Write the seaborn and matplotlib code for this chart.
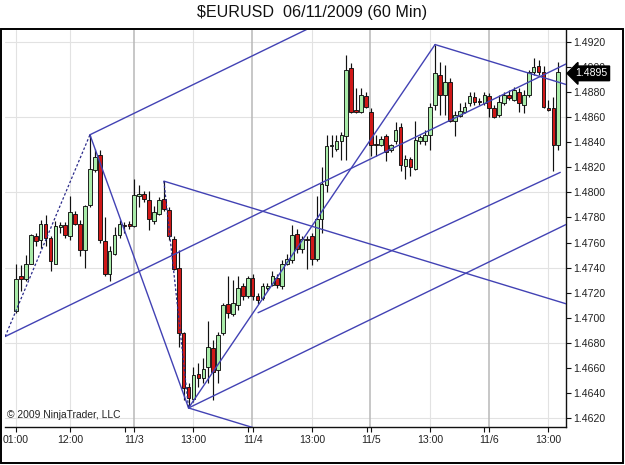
import numpy as np
import pandas as pd
import matplotlib
matplotlib.use("Agg")
import matplotlib.pyplot as plt
import matplotlib.transforms as mtransforms
from matplotlib.patches import Rectangle
import seaborn as sns

# ---------------- data (hourly EURUSD bars, 11/2 01:00 .. 11/6 15:00) ----------------
opens = [1.4705, 1.4733, 1.4731, 1.4743, 1.4765, 1.4762, 1.4775, 1.4764, 1.4743, 1.4772,
         1.4774, 1.4765, 1.4783, 1.4775, 1.4754, 1.4790, 1.4818, 1.4830, 1.4761, 1.4735,
         1.4751, 1.4766, 1.4774, 1.4775, 1.4773, 1.4797, 1.4799, 1.4794, 1.4777, 1.4783,
         1.4795, 1.4786, 1.4763, 1.4740, 1.4688, 1.4645, 1.4635, 1.4655, 1.4652, 1.4661,
         1.4676, 1.4658, 1.4688, 1.4711, 1.4703, 1.4710, 1.4725, 1.4717, 1.4732, 1.4717,
         1.4716, 1.4724, 1.4726, 1.4732, 1.4725, 1.4743, 1.4746, 1.4767, 1.4755, 1.4763,
         1.4765, 1.4747, 1.4779, 1.4806, 1.4837, 1.4835, 1.4841, 1.4845, 1.4899, 1.4866,
         1.4864, 1.4877, 1.4864, 1.4839, 1.4838, 1.4845, 1.4834, 1.4841, 1.4852, 1.4821,
         1.4827, 1.4819, 1.4841, 1.4841, 1.4846, 1.4870, 1.4894, 1.4878, 1.4888, 1.4857,
         1.4861, 1.4864, 1.4871, 1.4876, 1.4873, 1.4871, 1.4877, 1.4867, 1.4862, 1.4871,
         1.4878, 1.4874, 1.4880, 1.4870, 1.4878, 1.4896, 1.4901, 1.4896, 1.4867, 1.4867,
         1.4838]
highs = [1.4743, 1.4742, 1.4750, 1.4767, 1.4768, 1.4778, 1.4782, 1.4765, 1.4777, 1.4776,
         1.4776, 1.4797, 1.4785, 1.4778, 1.4790, 1.4846, 1.4835, 1.4834, 1.4780, 1.4757,
         1.4772, 1.4778, 1.4776, 1.4777, 1.4811, 1.4806, 1.4801, 1.4801, 1.4789, 1.4796,
         1.4809, 1.4788, 1.4765, 1.4754, 1.4689, 1.4648, 1.4661, 1.4664, 1.4668, 1.4697,
         1.4682, 1.4689, 1.4712, 1.4733, 1.4730, 1.4733, 1.4728, 1.4733, 1.4735, 1.4720,
         1.4728, 1.4728, 1.4737, 1.4735, 1.4746, 1.4751, 1.4774, 1.4771, 1.4765, 1.4765,
         1.4768, 1.4797, 1.4820, 1.4846, 1.4846, 1.4846, 1.4848, 1.4910, 1.4903, 1.4883,
         1.4883, 1.4880, 1.4867, 1.4846, 1.4845, 1.4847, 1.4839, 1.4856, 1.4855, 1.4830,
         1.4828, 1.4857, 1.4846, 1.4850, 1.4871, 1.4918, 1.4904, 1.4902, 1.4891, 1.4865,
         1.4871, 1.4872, 1.4880, 1.4880, 1.4875, 1.4880, 1.4879, 1.4870, 1.4878, 1.4880,
         1.4882, 1.4884, 1.4883, 1.4882, 1.4898, 1.4907, 1.4906, 1.4901, 1.4874, 1.4876,
         1.4904]
lows = [1.4704, 1.4721, 1.4729, 1.4743, 1.4757, 1.4756, 1.4757, 1.4737, 1.4743, 1.4768,
        1.4764, 1.4762, 1.4774, 1.4749, 1.4740, 1.4788, 1.4816, 1.4760, 1.4733, 1.4729,
        1.4750, 1.4764, 1.4768, 1.4771, 1.4772, 1.4788, 1.4792, 1.4770, 1.4775, 1.4782,
        1.4785, 1.4762, 1.4738, 1.4677, 1.4634, 1.4628, 1.4633, 1.4645, 1.4648, 1.4648,
        1.4634, 1.4648, 1.4686, 1.4700, 1.4701, 1.4706, 1.4714, 1.4716, 1.4714, 1.4711,
        1.4714, 1.4722, 1.4725, 1.4724, 1.4723, 1.4742, 1.4744, 1.4752, 1.4752, 1.4739,
        1.4742, 1.4745, 1.4768, 1.4800, 1.4828, 1.4833, 1.4826, 1.4826, 1.4863, 1.4863,
        1.4863, 1.4867, 1.4829, 1.4829, 1.4837, 1.4825, 1.4832, 1.4839, 1.4817, 1.4811,
        1.4813, 1.4818, 1.4839, 1.4838, 1.4834, 1.4866, 1.4862, 1.4862, 1.4856, 1.4845,
        1.4860, 1.4863, 1.4869, 1.4870, 1.4870, 1.4870, 1.4860, 1.4859, 1.4860, 1.4870,
        1.4874, 1.4873, 1.4864, 1.4863, 1.4876, 1.4894, 1.4894, 1.4867, 1.4865, 1.4817,
        1.4834]
closes = [1.4731, 1.4731, 1.4743, 1.4766, 1.4761, 1.4775, 1.4764, 1.4745, 1.4773, 1.4774,
          1.4766, 1.4784, 1.4775, 1.4754, 1.4789, 1.4819, 1.4828, 1.4762, 1.4735, 1.4753,
          1.4766, 1.4775, 1.4773, 1.4773, 1.4798, 1.4799, 1.4795, 1.4779, 1.4784, 1.4794,
          1.4787, 1.4765, 1.4739, 1.4688, 1.4644, 1.4636, 1.4654, 1.4652, 1.4659, 1.4677,
          1.4657, 1.4686, 1.4710, 1.4704, 1.4712, 1.4724, 1.4717, 1.4732, 1.4717, 1.4714,
          1.4725, 1.4725, 1.4733, 1.4726, 1.4743, 1.4747, 1.4766, 1.4755, 1.4763, 1.4762,
          1.4747, 1.4779, 1.4807, 1.4837, 1.4838, 1.4841, 1.4846, 1.4898, 1.4864, 1.4864,
          1.4878, 1.4868, 1.4838, 1.4838, 1.4843, 1.4832, 1.4838, 1.4850, 1.4822, 1.4827,
          1.4820, 1.4842, 1.4844, 1.4846, 1.4868, 1.4895, 1.4878, 1.4888, 1.4857, 1.4862,
          1.4865, 1.4868, 1.4877, 1.4872, 1.4872, 1.4878, 1.4867, 1.4860, 1.4872, 1.4878,
          1.4875, 1.4882, 1.4871, 1.4878, 1.4896, 1.4900, 1.4896, 1.4868, 1.4866, 1.4838,
          1.4896]

# x-axis tick labels (bar index of each label)
tick_bars = [0, 11, 24, 36, 48, 60, 72, 84, 96, 108]
tick_labels = ["01:00", "12:00", "11/3", "13:00", "11/4", "13:00", "11/5", "13:00", "11/6", "13:00"]
date_bars = [24, 48, 72, 96]
date_extra_ticks = [22.1, 47.0, 71.1, 95.0]

# Andrews pitchfork pivots (bar index, price)
pf1_bars = [-2.2, 15, 35]
pf1_prices = [1.4685, 1.4846, 1.4628]
pf2_bars = [30, 35, 85]
pf2_prices = [1.4809, 1.4628, 1.4918]
# extra parallel line (bar index, price)
extra_bars = [49.1, 110.4]
extra_prices = [1.4704, 1.4816]

last_price = "1.4895"
title = "$EURUSD  06/11/2009 (60 Min)"
copyright_txt = "\u00a9 2009 NinjaTrader, LLC"

# ---------------- style ----------------
sns.set_theme(style="white")
plt.rcParams["font.family"] = ["Liberation Sans", "DejaVu Sans"]

GREEN = "#a9eca9"
RED = "#d01818"
LINE = "#4242b4"
TXT = "#222222"

fig = plt.figure(figsize=(6.25, 4.65), dpi=100)
ax = fig.add_axes([5 / 625, 1 - 427 / 465, 561 / 625, 397 / 465])

df = pd.DataFrame(dict(bar=np.arange(len(opens)), open=opens, high=highs,
                       low=lows, close=closes))
up = df["close"] >= df["open"]

# grid
for v in np.arange(1.4620, 1.4921, 0.0060):
    ax.axhline(v, color="#e2e2e2", lw=0.8, zorder=0)
for b in tick_bars:
    if b in date_bars:
        ax.axvline(b - 0.1, color="#b8b8b8", lw=1.1, zorder=0)
    else:
        ax.axvline(b, color="#e2e2e2", lw=0.8, zorder=0)

# pitchfork lines (computed from pivots)
def pitchfork(bx, py, x_end=140):
    A = np.array([bx[0], py[0]])
    B = np.array([bx[1], py[1]])
    C = np.array([bx[2], py[2]])
    M = (B + C) / 2
    d = M - A
    segs_solid, segs_dash = [], []
    for P in (A, B, C):
        t = (x_end - P[0]) / d[0]
        segs_solid.append((P, P + t * d))
    segs_solid.append((B, C))
    segs_dash.append((A, B))
    return segs_solid, segs_dash

solid, dashed = [], []
for bx, py in ((pf1_bars, pf1_prices), (pf2_bars, pf2_prices)):
    s, d = pitchfork(bx, py)
    solid += s
    dashed += d
solid.append((np.array([extra_bars[0], extra_prices[0]]),
              np.array([extra_bars[1], extra_prices[1]])))

def seg_frame(segs):
    rows = []
    for k, (p, q) in enumerate(segs):
        rows.append(dict(seg=k, x=p[0], y=p[1]))
        rows.append(dict(seg=k, x=q[0], y=q[1]))
    return pd.DataFrame(rows)

sns.lineplot(data=seg_frame(solid), x="x", y="y", units="seg", estimator=None,
             sort=False, color=LINE, lw=1.0, ax=ax, zorder=4)
sns.lineplot(data=seg_frame(dashed), x="x", y="y", units="seg", estimator=None,
             sort=False, color="#2a2a8a", lw=0.9, ax=ax, zorder=4,
             linestyle=(0, (2, 1.6)))

# candles
ax.vlines(df["bar"], df["low"], df["high"], color="#111111", lw=0.85, zorder=2)
heights = (df["close"] - df["open"]).abs().clip(lower=0.00004)
ax.bar(df["bar"], heights, bottom=np.minimum(df["open"], df["close"]), width=0.74,
       color=np.where(up, GREEN, RED), edgecolor="#111111", linewidth=0.65, zorder=3)

ax.set_xlim(-2.23, 111.56)
ax.set_ylim(1.46128, 1.49296)
ax.set_xlabel("")
ax.set_ylabel("")

# axes / ticks
for s in ("left", "top"):
    ax.spines[s].set_visible(False)
for s in ("right", "bottom"):
    ax.spines[s].set_visible(True)
    ax.spines[s].set_color("#111111")
    ax.spines[s].set_linewidth(1.0)

ax.set_yticks(np.round(np.arange(1.4620, 1.49201, 0.0020), 4))
ax.yaxis.set_major_formatter(matplotlib.ticker.FormatStrFormatter("%.4f"))
ax.yaxis.tick_right()
ax.tick_params(axis="y", which="both", right=True, left=False, labelright=True,
               labelleft=False, direction="out", length=3.5, width=0.8, pad=1.5,
               labelsize=7.6, colors="#111111", labelcolor=TXT)
ax.set_xticks(tick_bars)
ax.set_xticklabels(tick_labels)
ax.set_xticks(date_extra_ticks, minor=True)
ax.tick_params(axis="x", which="both", bottom=True, direction="out", length=3.5,
               width=0.8, pad=2, labelsize=7.6, colors="#111111", labelcolor=TXT)

# last price marker
trans = mtransforms.blended_transform_factory(ax.transAxes, ax.transData)
ax.text(1.016, float(last_price), last_price, transform=trans, ha="left", va="center",
        color="white", fontsize=7.6, zorder=10, clip_on=False,
        bbox=dict(boxstyle="larrow,pad=0.22", fc="black", ec="black"))

ax.text(0.003, 0.03, copyright_txt, transform=ax.transAxes, ha="left", va="center",
        fontsize=7.4, color=TXT, zorder=5)

fig.text(0.5, 1 - 13 / 465, title, ha="center", va="center", fontsize=11.6, color="#111111")

fig.add_artist(Rectangle((1.5 / 625, 2 / 465), 621.5 / 625, 434 / 465,
                         transform=fig.transFigure, fill=False, ec="black", lw=1.4))

fig.savefig("out.png", dpi=100)
